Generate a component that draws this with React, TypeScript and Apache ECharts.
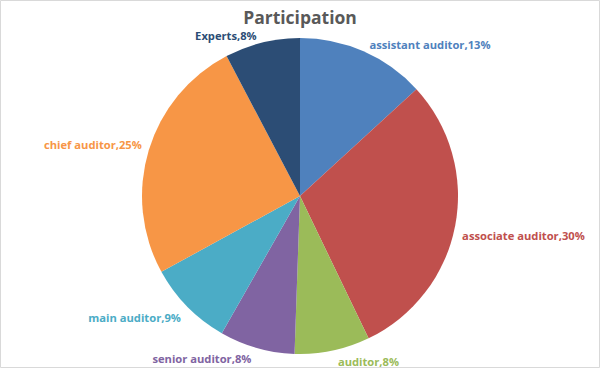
import React, { useEffect, useRef } from "react";
import * as echarts from "echarts";

const categories = [
  "assistant auditor",
  "associate auditor",
  "auditor",
  "senior auditor",
  "main auditor",
  "chief auditor",
  "Experts",
];
const values = [12, 27, 7, 7, 8, 23, 7];
const colors = ["#4F81BD", "#C0504D", "#9BBB59", "#8064A2", "#4BACC6", "#F79646", "#2C4D75"];
const titleText = "Participation";

export default function App() {
  const ref = useRef<HTMLDivElement>(null);
  useEffect(() => {
    const chart = echarts.init(ref.current!, null, { renderer: "svg" });
    const cy = 196;
    const data = categories.map((name, i) => ({
      name,
      value: values[i],
      itemStyle: { color: colors[i] },
      label: { color: colors[i] },
    }));
    chart.setOption({
      animation: false,
      backgroundColor: "#ffffff",
      title: {
        text: titleText,
        left: "center",
        top: 3,
        textStyle: {
          fontFamily: "Open Sans",
          fontWeight: "bold",
          fontSize: 17.5,
          color: "#595959",
        },
      },
      graphic: [
        {
          type: "rect",
          shape: { x: 0.5, y: 0.5, width: 599, height: 367 },
          style: { fill: "none", stroke: "#D9D9D9", lineWidth: 1 },
          silent: true,
        },
      ],
      series: [
        {
          type: "pie",
          center: [300, cy],
          radius: 158,
          startAngle: 90,
          clockwise: true,
          avoidLabelOverlap: false,
          data,
          itemStyle: { borderColor: "#ffffff", borderWidth: 0 },
          label: {
            show: true,
            position: "outside",
            fontFamily: "Open Sans",
            fontWeight: "bold",
            fontSize: 11.2,
            distanceToLabelLine: 5,
            formatter: (p: any) => `${p.name},${Math.round(p.percent)}%`,
          },
          labelLine: { show: false, length: 2, length2: 0 },
          labelLayout: (params: any) => {
            const r = params.labelRect;
            const mid = r.y + r.height / 2;
            return { dy: mid > cy ? 9 : -5 };
          },
        },
      ],
    });
    return () => chart.dispose();
  }, []);
  return (
    <div
      ref={ref}
      style={{ position: "fixed", left: 0, top: 0, width: 600, height: 368 }}
    />
  );
}
